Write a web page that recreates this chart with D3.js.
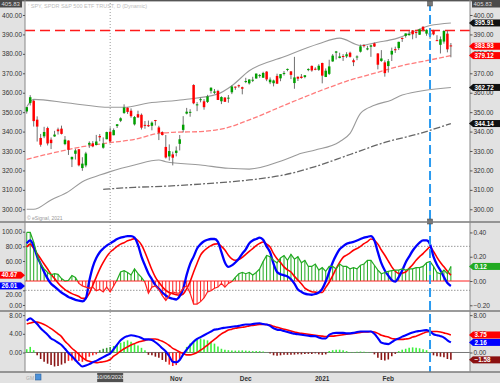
<!DOCTYPE html>
<html><head><meta charset="utf-8">
<script src="https://cdn.jsdelivr.net/npm/d3@7"></script>
<style>body{margin:0;background:#fff}svg{display:block}text{font-family:"Liberation Sans",Arial,sans-serif}</style>
</head><body><svg id="c" width="500" height="383"></svg>
<script>
// ---------- DATA ----------
const open=[350.35,354.67,355.87,346.13,336.71,337.55,341.82,335.82,337.49,341.12,341.51,333.56,335.37,325.70,328.57,330.90,321.22,322.58,333.22,333.97,333.09,337.69,331.70,336.06,339.91,338.12,342.85,345.56,349.59,352.28,350.75,343.71,348.96,348.65,343.46,343.33,342.96,345.93,342.13,339.76,332.10,327.22,328.28,329.00,333.69,340.86,349.24,349.93,363.97,353.49,356.40,355.58,355.27,360.98,359.97,360.91,355.60,357.50,357.28,360.21,363.13,363.84,362.83,365.57,364.82,366.68,367.32,369.02,367.72,370.88,365.37,364.90,368.64,367.40,369.82,371.94,370.97,364.97,368.21,368.28,368.08,371.74,373.81,372.34,371.78,375.31,368.10,369.71,376.10,380.59,377.85,378.89,378.69,380.59,376.72,378.34,381.11,384.49,382.25,383.67,385.41,380.22,376.36,375.63,373.72,379.65,382.44,382.96,388.20,389.27,389.61,392.12,391.24,389.85,393.96,390.42,389.59,392.07,387.06,384.66,386.33,390.41,384.35];
const high=[352.71,358.75,356.38,347.83,338.77,342.46,342.53,336.97,340.38,342.02,343.06,337.70,335.49,327.13,331.20,331.00,326.80,329.58,334.96,335.11,338.29,338.74,337.02,339.96,342.17,341.63,343.85,347.35,354.02,352.47,351.93,348.02,350.75,349.33,345.44,345.67,345.24,345.99,342.98,340.12,338.25,333.40,329.69,332.36,338.25,347.94,352.19,351.51,364.38,355.18,357.56,356.72,358.90,362.78,361.92,361.50,358.18,357.72,358.82,363.81,363.16,364.18,363.12,367.68,366.96,368.19,369.85,369.62,370.78,371.05,367.86,366.74,369.80,369.59,371.16,372.46,371.15,378.46,368.33,369.62,369.03,372.59,374.00,373.10,374.66,375.45,372.50,376.98,379.90,381.49,380.58,379.86,380.86,381.13,377.58,379.23,384.79,384.95,384.13,384.77,385.85,380.32,381.93,376.67,377.34,383.22,383.70,386.24,388.47,390.56,391.89,392.28,391.69,392.90,394.17,392.66,391.52,392.38,389.62,388.95,392.23,391.88,385.58];
const low=[349.24,353.43,342.59,334.87,332.23,336.61,332.85,331.00,337.30,338.47,338.52,332.99,327.97,321.73,325.60,322.10,319.80,321.64,331.61,331.94,332.88,335.01,331.19,336.01,334.38,338.10,341.86,344.89,349.06,349.09,347.14,343.13,347.10,341.04,341.44,342.40,340.65,343.13,335.62,337.99,326.13,325.09,322.60,327.24,330.29,339.59,348.86,347.65,354.06,350.51,355.06,351.26,354.71,359.59,359.33,356.24,354.15,355.25,354.87,359.29,361.48,362.58,359.17,364.93,364.20,365.50,367.22,367.72,367.67,365.95,364.43,363.26,364.47,365.92,368.87,371.05,367.02,362.03,366.03,367.22,367.45,371.07,370.83,371.57,371.23,364.82,368.05,369.12,375.91,377.10,377.72,376.36,377.85,378.10,373.70,376.75,380.69,383.25,381.84,378.46,383.54,372.01,375.89,368.27,370.38,376.32,380.48,381.97,386.14,388.35,389.43,387.50,388.10,389.77,391.53,389.33,387.74,389.55,386.74,380.20,385.27,380.78,378.23];
const close=[352.60,357.70,345.39,342.57,333.21,339.79,333.89,334.06,338.46,340.17,338.82,335.84,330.65,326.97,330.30,322.64,323.50,328.73,334.19,332.37,334.89,337.04,333.84,339.76,334.93,340.76,343.78,346.85,352.43,350.13,347.93,347.50,347.29,342.01,343.38,342.73,344.61,345.78,339.39,338.22,326.66,329.98,326.54,330.20,336.03,343.54,350.24,350.16,354.56,354.04,356.67,352.56,358.10,362.57,360.62,356.28,357.78,355.33,357.46,363.22,362.66,363.67,362.06,366.02,366.79,366.69,369.85,369.09,370.17,366.85,366.73,366.30,364.66,369.59,370.17,372.24,369.18,367.86,367.24,367.57,369.00,372.17,371.46,371.99,373.88,368.79,371.33,373.55,379.10,381.26,378.69,378.77,379.79,378.46,375.70,378.65,383.89,384.24,382.88,384.39,383.79,374.41,377.63,370.07,376.23,381.55,381.85,386.19,387.71,390.51,390.25,390.08,390.71,392.64,392.30,392.39,390.72,390.03,387.03,387.50,391.77,382.33,383.93];

// price overlays (bar index, value)
const upperIdx=[0,2,12,24,28,35,45,55,59,64,74,84,90,96,101,106,116,122];
const upperVal=[352.8,356.6,354.7,352.5,352.5,354.7,356.4,359.4,363.6,371.3,378.5,385.2,388.1,384.3,386,387.7,394.6,395.91];
const lowerIdx=[0,2,7,12,16,21,24,31,38,40,50,58,64,74,79,83,90,93,96,100,105,108,122];
const lowerVal=[300,300,304.8,309.1,314.2,317.6,319.4,322.8,325.4,324.5,322.8,321.1,320.7,325.4,328.8,330.5,334.8,339.1,349.4,353.5,356.3,358.8,362.72];
const midIdx=[0,7,16,24,31,38,42,50,57,64,74,83,93,101,108,115,122];
const midVal=[325.7,328.8,332.2,334.3,336,339.1,339.6,340,341.7,346,353.5,360,366.5,370.5,374,376.5,379.12];
const maIdx=[22,31,40,50,64,74,83,93,103,112,122];
const maVal=[310.3,311.3,311.9,313,315.1,317.7,322,328.2,334.4,338.5,344.14];
const resistance=392.0;
const markerIdx=116, crossIdx=24;

// stochastic panel
const stochK=[84,88,80,66,56,45,36,29,25,21,17,14,11,9,7,6,5,9,33,52,64,72,77,81,84,87,90,92,93,94,94,92,82,66,54,43,35,27,22,17,13,10,8.5,7.5,12,22,41,56,66,77,83,87,89,90,90,86,72,58,52,54,58,63,70,76,84,88,90,92,89,80,72,56,45,42,40.5,39,35,29,21,18,15.5,14.5,14,15,17,22,32,45,58,68,76,80,83.5,85,86,88,90,92,93,94,88,72,57,47,40,34,32,38,47,58,66,74,80,85,88,88,83,66,55,47,38,30,26.01];
const stochD=[79,83,77,70,63,56,49,42,36,30,25,21,18,15.5,13.5,11.5,9,9.5,16,27,38,49,58,66,72,76,80,83,85,87.5,89,90.5,88,82,72,60,48,38,31,25,20,17,15.5,14,13.5,15,22,32,45,57,68,74,78,81,83,83.5,80,75,68,63,61,62,65,69,73,77,81,84,86,83,79,70,63,58,52,48,45,39,34,29,23,20,18,17.5,17,17,24,31,40,49.5,58,65,68,71,74.6,77,80,83.6,86.5,90,88,83,75,67.8,60,52,46,43,43.5,45,50,55,61,66,70,75,79,73,65,58,52,46,40.67];
const stochHist=[0.40,0.40,0.32,0.21,0.14,0.10,0.07,0.05,0.06,0.055,0.02,0.0,0.005,0.045,0.03,-0.02,-0.04,-0.05,-0.06,-0.05,-0.08,-0.07,-0.09,-0.05,-0.09,-0.04,0.01,0.075,0.085,0.07,0.05,0.1,0.06,0.03,-0.01,-0.1,-0.05,-0.04,-0.07,-0.12,-0.16,-0.12,-0.09,-0.10,-0.10,-0.06,-0.04,-0.10,-0.19,-0.19,-0.17,-0.14,-0.09,-0.08,-0.06,-0.05,-0.02,-0.05,-0.02,-0.005,0.03,0.06,0.07,0.06,0.07,0.05,0.07,0.10,0.16,0.21,0.20,0.17,0.15,0.19,0.21,0.17,0.22,0.18,0.20,0.15,0.17,0.12,0.12,0.14,0.09,0.11,0.08,0.12,0.12,0.10,0.14,0.12,0.12,0.10,0.11,0.10,0.13,0.14,0.17,0.17,0.13,0.09,0.06,0.07,0.08,0.085,0.09,0.09,0.10,0.09,0.10,0.10,0.11,0.11,0.12,0.15,0.16,0.12,0.07,0.06,0.09,0.06,0.12];

// MACD panel
const macd=[6.8,7.3,6.8,6.1,5.2,4.5,3.8,3.0,2.6,2.1,1.6,0.8,-0.1,-0.8,-1.6,-2.4,-3.0,-2.8,-2.5,-2.1,-1.8,-1.4,-1.0,-0.6,-0.2,0.7,1.7,2.6,3.2,3.5,3.7,3.6,3.4,3.1,2.8,2.8,2.7,2.2,1.6,0.9,0.2,-0.8,-2.0,-2.1,-1.6,-0.4,0.6,1.5,2.3,2.9,3.3,3.7,4.1,4.5,4.9,5.0,5.2,5.3,5.4,5.5,5.6,5.7,5.9,6.0,6.0,6.1,6.2,6.25,6.1,6.0,5.7,5.2,4.9,4.8,4.6,4.4,4.2,4.0,3.9,3.8,3.7,3.6,3.5,3.5,3.2,3.0,3.0,3.8,4.1,4.2,4.2,4.2,4.1,4.1,4.2,4.4,4.5,4.5,4.5,4.5,4.0,3.1,2.1,1.9,1.8,2.2,2.7,3.0,3.4,3.7,4.0,4.3,4.5,4.6,4.7,4.8,4.5,3.9,3.7,3.5,3.2,2.6,2.16];
const signal=[6.1,6.3,6.5,6.5,6.3,6.0,5.6,5.1,4.6,4.0,3.4,2.4,1.7,0.9,0.3,-0.4,-1.1,-1.6,-1.9,-2.1,-2.2,-2.1,-2.0,-1.8,-1.5,-0.8,-0.3,0.3,0.8,1.2,1.6,1.9,2.2,2.4,2.6,2.8,2.9,2.9,2.7,2.4,2.0,1.5,0.9,0.5,0.1,-0.2,-0.5,-0.5,-0.3,0.0,0.5,1.0,1.6,2.2,2.8,3.4,4.0,4.4,4.8,5.0,5.2,5.3,5.4,5.5,5.7,5.8,5.9,6.0,6.0,6.0,5.9,5.6,5.4,5.2,5.0,4.8,4.6,4.4,4.2,4.1,4.0,3.9,3.8,3.7,3.6,3.5,3.4,3.5,3.5,3.6,3.7,3.8,3.9,4.0,4.1,4.2,4.3,4.4,4.4,4.5,4.4,4.1,3.7,3.5,3.3,3.0,2.9,2.8,2.8,2.9,3.0,3.3,3.5,3.8,4.1,4.4,4.5,4.5,4.5,4.4,4.2,4.0,3.75];
const macdHist=[0.7,1.2,0.5,-0.6,-1.4,-2.0,-2.4,-2.7,-3.0,-2.9,-2.6,-2.3,-1.8,-1.7,-1.9,-1.8,-2.0,-1.5,-0.9,-0.6,-0.4,0.5,0.8,1.0,1.2,1.4,1.8,2.1,2.3,2.6,2.3,2.0,1.5,1.0,0.5,-0.5,-0.6,-0.9,-1.1,-1.6,-2.0,-2.6,-2.9,-2.7,-1.4,-0.3,1.2,1.9,2.5,2.8,3.0,2.8,2.6,2.3,1.9,1.3,0.8,0.6,0.5,0.45,0.4,0.4,0.45,0.4,0.35,0.3,0.3,0.3,0.2,0.05,-0.2,-0.6,-0.7,-0.6,-0.5,-0.5,-0.5,-0.45,-0.4,-0.4,-0.35,-0.3,-0.3,-0.2,-0.4,-0.5,-0.4,0.3,0.5,0.6,0.6,0.5,0.3,0.1,0.1,0.15,0.2,0.15,0.1,0.05,-0.4,-1.1,-1.6,-1.7,-1.5,-0.8,-0.3,0.3,0.6,0.8,1.0,1.1,1.0,0.9,0.7,0.5,0.1,-0.6,-0.8,-0.9,-1.0,-1.4,-1.58];

// axis labels
const monthLabels=['Nov','Dec','2021','Feb'];
const monthIdx=[43,63,85,104];
const crossLabel='10/06/2020';
const priceTicks=[300,310,320,330,340,350,360,370,380,390,400];
const stochTicks=[0,20,60,80,100];
const stochHistTicks=[-0.2,0,0.2,0.4];
const macdTicks=[0,4,8];
const topValue='405.83';
const title='SPY, SPDR S&P 500 ETF TRUST, D (Dynamic)';

// ---------- DRAW ----------
const svg=d3.select('#c');
const L=25,R=470;
const P1=[3,222],P2=[222,311],P3=[311,372];
const xi=d3.scaleLinear().domain([-0.5,127.5]).range([L,R]);
const yP=d3.scaleLinear().domain([293.46,406.18]).range([P1[1],P1[0]]);
const yS=d3.scaleLinear().domain([-8.2,113.2]).range([P2[1],P2[0]]);
const yH=d3.scaleLinear().domain([-0.247,0.486]).range([P2[1],P2[0]]);
const yM=d3.scaleLinear().domain([-4.18,8.89]).range([P3[1],P3[0]]);

svg.append('rect').attr('width',500).attr('height',383).attr('fill','#fff');
const AX='#e2e2e2';
svg.append('rect').attr('x',0).attr('y',0).attr('width',L).attr('height',372).attr('fill',AX);
svg.append('rect').attr('x',R).attr('y',0).attr('width',500-R).attr('height',372).attr('fill',AX);
svg.append('rect').attr('x',0).attr('y',372).attr('width',500).attr('height',11).attr('fill',AX);

const defs=svg.append('defs');
function clip(id,y0,y1){defs.append('clipPath').attr('id',id).append('rect').attr('x',L).attr('y',y0).attr('width',R-L).attr('height',y1-y0);}
clip('c1',P1[0],P1[1]);clip('c2',P2[0],P2[1]);clip('c3',P3[0],P3[1]);
clip('c2p',P2[0],yH(0));clip('c2n',yH(0),P2[1]);

// grid / reference lines
const g2=svg.append('g').attr('clip-path','url(#c2)');
[20,80].forEach(v=>g2.append('line').attr('x1',L).attr('x2',R).attr('y1',yS(v)).attr('y2',yS(v)).attr('stroke','#999').attr('stroke-dasharray','1.5,1.5'));
svg.append('line').attr('x1',xi(crossIdx)).attr('x2',xi(crossIdx)).attr('y1',P1[0]).attr('y2',P3[1]).attr('stroke','#999').attr('stroke-dasharray','1,2');

// ---- price panel
const g1=svg.append('g').attr('clip-path','url(#c1)');
const lineXY=(idx,val,y)=>d3.line().x((d,i)=>xi(idx[i])).y(d=>y(d)).curve(d3.curveMonotoneX)(val);
g1.append('path').attr('d',lineXY(upperIdx,upperVal,yP)).attr('fill','none').attr('stroke','#9a9a9a').attr('stroke-width',1.1);
g1.append('path').attr('d',lineXY(lowerIdx,lowerVal,yP)).attr('fill','none').attr('stroke','#9a9a9a').attr('stroke-width',1.1);
g1.append('path').attr('d',lineXY(midIdx,midVal,yP)).attr('fill','none').attr('stroke','#ff7b7b').attr('stroke-width',1.3).attr('stroke-dasharray','5,2');
g1.append('path').attr('d',lineXY(maIdx,maVal,yP)).attr('fill','none').attr('stroke','#666').attr('stroke-width',1.3).attr('stroke-dasharray','7,2,2,2');
g1.append('line').attr('x1',L).attr('x2',R).attr('y1',yP(resistance)).attr('y2',yP(resistance)).attr('stroke','#ff1a1a').attr('stroke-width',1.5).attr('stroke-dasharray','10,5');

const cg=g1.selectAll('g.c').data(close).enter().append('g');
cg.append('line').attr('x1',(d,i)=>xi(i)).attr('x2',(d,i)=>xi(i)).attr('y1',(d,i)=>yP(high[i])).attr('y2',(d,i)=>yP(low[i])).attr('stroke','#707070').attr('stroke-width',1);
cg.append('rect').attr('x',(d,i)=>xi(i)-1.25).attr('width',2.5)
  .attr('y',(d,i)=>yP(Math.max(open[i],d))).attr('height',(d,i)=>Math.max(1,Math.abs(yP(open[i])-yP(d))))
  .attr('fill',(d,i)=>d>=open[i]?'#00a000':'#ff0000');

svg.append('text').attr('x',28).attr('y',8).attr('font-size',5.5).attr('fill','#bdbdbd').text('\u02BC '+title);
svg.append('text').attr('x',27).attr('y',219.5).attr('font-size',5).attr('fill','#999').text('\u00A9 eSignal, 2021');

// ---- stochastic panel
g2.selectAll('line.h').data(stochHist).enter().append('line')
  .attr('x1',(d,i)=>xi(i)).attr('x2',(d,i)=>xi(i)).attr('y1',yH(0)).attr('y2',d=>yH(d))
  .attr('stroke',d=>d>=0?'#22aa22':'#ff2020').attr('stroke-width',1);
const hp=d3.line().x((d,i)=>xi(i)).y(d=>yH(d))(stochHist);
svg.append('path').attr('d',hp).attr('fill','none').attr('stroke','#22aa22').attr('stroke-width',1.2).attr('clip-path','url(#c2p)');
svg.append('path').attr('d',hp).attr('fill','none').attr('stroke','#ff2020').attr('stroke-width',1.2).attr('clip-path','url(#c2n)');
g2.append('line').attr('x1',L).attr('x2',R).attr('y1',yH(0)).attr('y2',yH(0)).attr('stroke','#ff2020').attr('stroke-width',1);
const sl=d3.line().x((d,i)=>xi(i)).y(d=>yS(d)).curve(d3.curveMonotoneX);
g2.append('path').attr('d',sl(stochD)).attr('fill','none').attr('stroke','#ff0000').attr('stroke-width',1.6);
g2.append('path').attr('d',sl(stochK)).attr('fill','none').attr('stroke','#0000ff').attr('stroke-width',2.3);

// ---- MACD panel
const g3=svg.append('g').attr('clip-path','url(#c3)');
g3.append('line').attr('x1',L).attr('x2',R).attr('y1',yM(0)).attr('y2',yM(0)).attr('stroke','#777').attr('stroke-width',1);
g3.selectAll('line.m').data(macdHist).enter().append('line')
  .attr('x1',(d,i)=>xi(i)).attr('x2',(d,i)=>xi(i)).attr('y1',yM(0)).attr('y2',d=>yM(d))
  .attr('stroke',(d,i)=>d>=0?(macd[i]>=0?'#3cf03c':'#3a9a3a'):(macd[i]>=0?'#8b1414':'#ff2020')).attr('stroke-width',1.6);
const ml=d3.line().x((d,i)=>xi(i)).y(d=>yM(d)).curve(d3.curveMonotoneX);
g3.append('path').attr('d',ml(signal)).attr('fill','none').attr('stroke','#ff0000').attr('stroke-width',1.6);
g3.append('path').attr('d',ml(macd)).attr('fill','none').attr('stroke','#0000ff').attr('stroke-width',2.1);

// blue vertical marker
svg.append('line').attr('x1',xi(markerIdx)).attr('x2',xi(markerIdx)).attr('y1',2).attr('y2',P3[1]).attr('stroke','#2b9bf0').attr('stroke-width',2).attr('stroke-dasharray','9,4');
[1,219].forEach(y=>svg.append('rect').attr('x',xi(markerIdx)-2.5).attr('y',y).attr('width',5).attr('height',5).attr('fill','#777').attr('stroke','#444').attr('stroke-width',0.5));

// panel borders
[P1[1],P2[1],P3[1]].forEach(y=>svg.append('line').attr('x1',0).attr('x2',500).attr('y1',y).attr('y2',y).attr('stroke','#7a7a7a').attr('stroke-width',1.4));
svg.append('rect').attr('x',0).attr('y',0).attr('width',500).attr('height',1.4).attr('fill','#555');
[L,R].forEach(x=>svg.append('line').attr('x1',x).attr('x2',x).attr('y1',0).attr('y2',372).attr('stroke','#888').attr('stroke-width',1));

// axes
const f2=d3.format('.2f');
function styleAxis(g){g.select('.domain').remove();g.selectAll('text').attr('font-size',6.5).attr('fill','#333').attr('font-family','Liberation Sans');g.selectAll('line').attr('stroke','#555');}
function axes(scale,ticks){
  styleAxis(svg.append('g').attr('transform',`translate(${L},0)`).call(d3.axisLeft(scale).tickValues(ticks).tickFormat(f2).tickSize(2).tickPadding(1)));
  styleAxis(svg.append('g').attr('transform',`translate(${R},0)`).call(d3.axisRight(scale).tickValues(ticks).tickFormat(f2).tickSize(2.5).tickPadding(1)));
}
axes(yP,priceTicks);
const a2=svg.append('g').attr('transform',`translate(${L},0)`).call(d3.axisLeft(yS).tickValues(stochTicks).tickFormat(f2).tickSize(2).tickPadding(1));
styleAxis(a2);
a2.selectAll('.tick').filter(d=>d===20).select('text').attr('dy','0.95em');
styleAxis(svg.append('g').attr('transform',`translate(${R},0)`).call(d3.axisRight(yH).tickValues(stochHistTicks).tickFormat(f2).tickSize(2.5).tickPadding(1)));
axes(yM,macdTicks);

// value tags
function tagR(y,t,fill){
  svg.append('path').attr('d',`M${R-1},${y}L${R+3},${y-3.5}L${R+3},${y+3.5}Z`).attr('fill',fill);
  svg.append('rect').attr('x',R+3).attr('y',y-3.5).attr('width',500-R-3).attr('height',7).attr('fill',fill);
  svg.append('text').attr('x',R+4.5).attr('y',y).attr('dy','0.36em').attr('font-size',6.3).attr('font-weight','bold').attr('fill','#fff').text(t);
}
function tagL(y,t,fill){
  svg.append('path').attr('d',`M${L},${y}L${L-4},${y-3.5}L${L-4},${y+3.5}Z`).attr('fill',fill);
  svg.append('rect').attr('x',0).attr('y',y-3.5).attr('width',L-4).attr('height',7).attr('fill',fill);
  svg.append('text').attr('x',1.5).attr('y',y).attr('dy','0.36em').attr('font-size',6.3).attr('font-weight','bold').attr('fill','#fff').text(t);
}
const last=a=>a[a.length-1];
tagR(yP(last(maVal)),f2(last(maVal)),'#111');
tagR(yP(last(lowerVal)),f2(last(lowerVal)),'#111');
tagR(yP(last(midVal)),f2(last(midVal)),'#ff0000');
tagR(yP(last(close)),f2(last(close)),'#ff0000');
tagR(yP(last(upperVal)),f2(last(upperVal)),'#111');
tagR(yH(last(stochHist)),f2(last(stochHist)),'#22aa22');
tagL(yS(last(stochD)),f2(last(stochD)),'#ff0000');
tagL(yS(last(stochK)),f2(last(stochK)),'#0000ff');
tagR(yM(last(macdHist)),f2(last(macdHist)),'#8b1010');
tagR(yM(last(macd)),f2(last(macd)),'#0000ff');
tagR(yM(last(signal)),f2(last(signal)),'#ff0000');

// top value boxes
[[0,22],[R+2,28]].forEach(([x,w])=>{
  svg.append('rect').attr('x',x).attr('y',0).attr('width',w).attr('height',7.5).attr('fill','#4a4a4a');
  svg.append('text').attr('x',x+1.5).attr('y',3.8).attr('dy','0.35em').attr('font-size',6).attr('fill','#ddd').text(topValue);
});

// x axis labels
monthLabels.forEach((m,k)=>svg.append('text').attr('x',xi(monthIdx[k])).attr('y',380.5).attr('text-anchor','middle').attr('font-size',6.5).attr('font-weight','bold').attr('fill','#333').text(m));
svg.append('rect').attr('x',xi(crossIdx)-13).attr('y',373).attr('width',26).attr('height',9).attr('fill','#505050');
svg.append('text').attr('x',xi(crossIdx)).attr('y',377.5).attr('dy','0.35em').attr('text-anchor','middle').attr('font-size',5.6).attr('fill','#eee').text(crossLabel);
svg.append('text').attr('x',26).attr('y',380).attr('font-size',5).attr('fill','#aaa').text('GM');
svg.append('rect').attr('x',35.5).attr('y',374).attr('width',5.5).attr('height',6).attr('fill','#4a90d9').attr('stroke','#2a5f9a').attr('stroke-width',0.6);
</script></body></html>
